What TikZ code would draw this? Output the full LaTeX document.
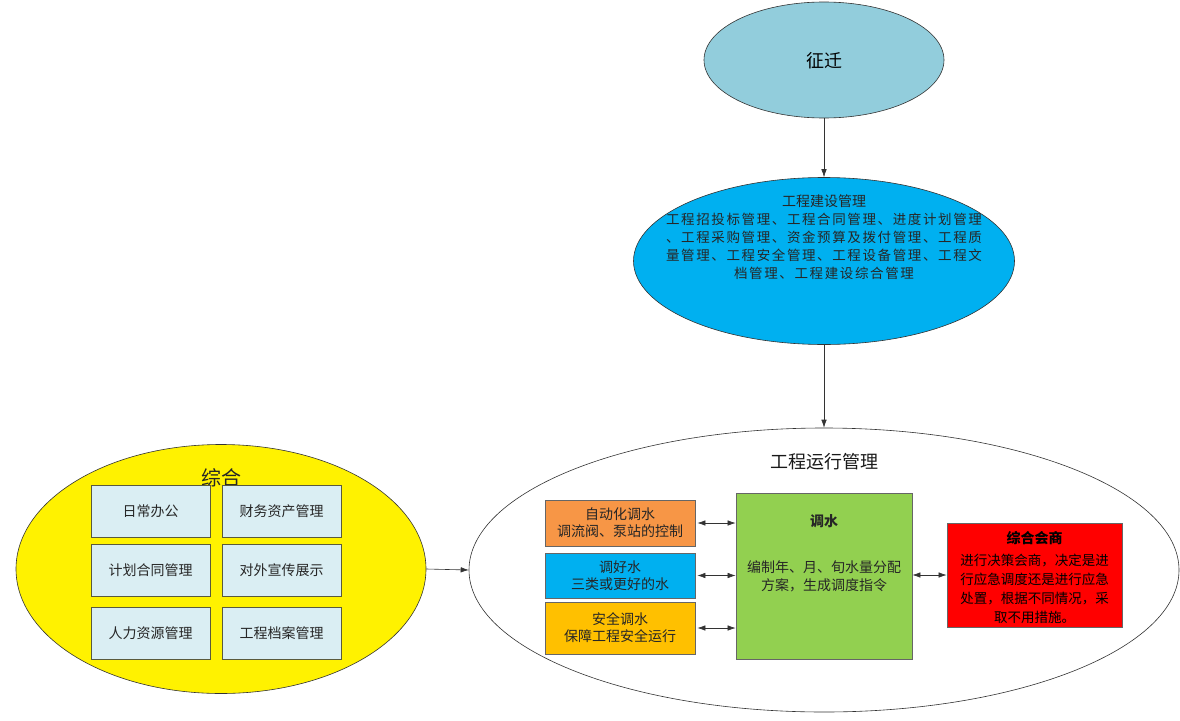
\documentclass[tikz,border=0pt]{standalone}
\usepackage{fontspec}
\setmainfont{Noto Sans CJK SC}
\usetikzlibrary{shapes.geometric,arrows.meta}
\definecolor{zqblue}{RGB}{146,205,220}
\definecolor{skyb}{RGB}{0,176,240}
\definecolor{orng}{RGB}{247,150,70}
\definecolor{gold}{RGB}{255,192,0}
\definecolor{grn}{RGB}{146,208,80}
\definecolor{lbox}{RGB}{218,238,243}
\definecolor{boxline}{RGB}{90,90,60}
\definecolor{redfill}{RGB}{255,0,0}
\tikzset{
  ell/.style={ellipse,draw=black!80,line width=0.6pt,inner sep=0pt},
  arr/.style={-{Latex[length=8pt,width=5.5pt]},line width=0.6pt,draw=black!80},
  darr/.style={{Latex[length=8pt,width=5.5pt]}-{Latex[length=8pt,width=5.5pt]},line width=0.6pt,draw=black!80},
  ibox/.style={draw=boxline,line width=0.8pt,fill=lbox,minimum width=119pt,minimum height=52pt,inner sep=0pt,font=\fontsize{14}{17}\selectfont,text=black!85},
  lbx/.style={draw=black!60,line width=0.8pt,minimum width=150pt,inner sep=0pt,align=center,font=\fontsize{14}{17}\selectfont,text=black!85},
  txt/.style={align=center,inner sep=0pt}
}
\begin{document}
\begin{tikzpicture}[x=1pt,y=-1pt]
\useasboundingbox (0,0) rectangle (1180,720);
% top ellipse
\node[ell,fill=zqblue,minimum width=240pt,minimum height=116pt] (zq) at (824,60) {};
\node[txt,font=\fontsize{18}{20}\selectfont] (zqt) at (824,61) {征迁};
% construction ellipse
\node[ell,fill=skyb,minimum width=381pt,minimum height=167pt] (js) at (824,261) {};
\node[txt,font=\fontsize{14}{16}\selectfont,text=black!85] (jst) at (824,201) {工程建设管理};
\node[txt,font=\fontsize{13.5}{18}\selectfont\addfontfeature{LetterSpace=12},text=black!85] (jsb) at (824,246)
 {工程招投标管理、工程合同管理、进度计划管理\\、工程采购管理、资金预算及拨付管理、工程质\\量管理、工程安全管理、工程设备管理、工程文\\档管理、工程建设综合管理};
% operation ellipse
\node[ell,fill=white,minimum width=710pt,minimum height=284pt] (yx) at (824,570) {};
\node[txt,font=\fontsize{18}{20}\selectfont,text=black!90] (yxt) at (824,462) {工程运行管理};
% yellow ellipse
\node[ell,fill=yellow,minimum width=410pt,minimum height=249pt] (zh) at (221,569) {};
\node[txt,font=\fontsize{20}{22}\selectfont,text=black!85] (zht) at (221,478) {综合};
\node[ibox] (b1) at (150.5,511) {日常办公};
\node[ibox] (b2) at (281.5,511) {财务资产管理};
\node[ibox] (b3) at (150.5,570.5) {计划合同管理};
\node[ibox] (b4) at (281.5,570.5) {对外宣传展示};
\node[ibox] (b5) at (150.5,633) {人力资源管理};
\node[ibox] (b6) at (281.5,633) {工程档案管理};
% left boxes in operation
\node[lbx,fill=orng,minimum height=46pt] (a1) at (620,523) {自动化调水\\调流阀、泵站的控制};
\node[lbx,fill=skyb,minimum height=45pt] (a2) at (620,575.5) {调好水\\三类或更好的水};
\node[lbx,fill=gold,minimum height=52pt] (a3) at (620,628) {安全调水\\保障工程安全运行};
% green box
\node[draw=black!60,line width=0.8pt,fill=grn,minimum width=176pt,minimum height=166pt,inner sep=0pt] (g) at (824,576) {};
\node[txt,font=\fontsize{14}{17}\selectfont\bfseries,text=black!85] (gt) at (824,521) {调水};
\node[txt,font=\fontsize{14}{18}\selectfont,text=black!85] (gb) at (824,576) {编制年、月、旬水量分配\\方案，生成调度指令};
% red box
\node[draw=black!60,line width=0.8pt,fill=redfill,minimum width=175pt,minimum height=104pt,inner sep=0pt] (r) at (1034.5,575) {};
\node[txt,font=\fontsize{14}{17}\selectfont\bfseries,text=black] (rt) at (1034.5,538) {综合会商};
\node[txt,font=\fontsize{13.5}{19}\selectfont,text=black] (rb) at (1034.5,589)
 {进行决策会商，决定是进\\行应急调度还是进行应急\\处置，根据不同情况，采\\取不用措施。};
% connectors
\draw[arr] (zq.south) -- (js.north);
\draw[arr] (js.south) -- (yx.north);
\draw[arr] (zh.east) -- (yx.west);
\draw[darr,shorten <=2pt] (a1.east) -- (a1.east -| g.west);
\draw[darr,shorten <=2pt] (a2.east) -- (a2.east -| g.west);
\draw[darr,shorten <=2pt] (a3.east) -- (a3.east -| g.west);
\draw[darr] (g.east |- r.west) -- (r.west);
\end{tikzpicture}
\end{document}
